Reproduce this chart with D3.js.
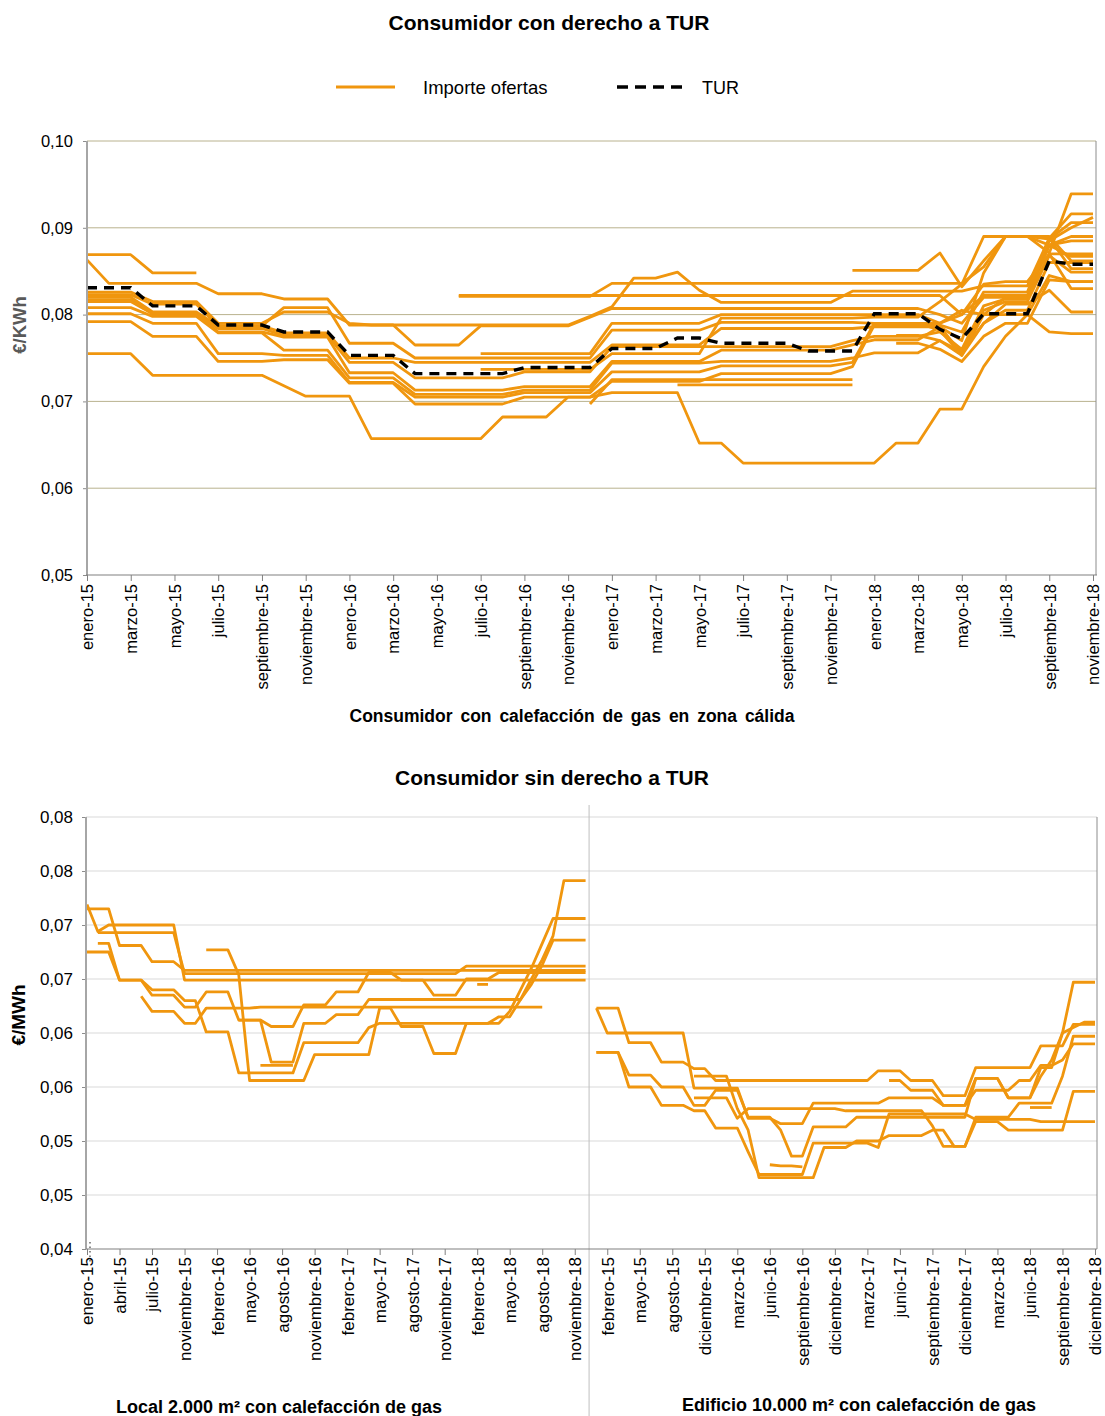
<!DOCTYPE html>
<html><head><meta charset="utf-8">
<script src="https://cdn.jsdelivr.net/npm/d3@7/dist/d3.min.js"></script>
<style>
body{margin:0;background:#fff;}
svg{display:block;font-family:"Liberation Sans",Arial,Helvetica,sans-serif;}
</style></head><body>
<svg id="chart" width="1105" height="1416"></svg>
<script>
const _ = null;

// ================= TOP CHART DATA =================
const topMonths = ["enero-15","febrero-15","marzo-15","abril-15","mayo-15","junio-15","julio-15","agosto-15","septiembre-15","octubre-15","noviembre-15","diciembre-15",
"enero-16","febrero-16","marzo-16","abril-16","mayo-16","junio-16","julio-16","agosto-16","septiembre-16","octubre-16","noviembre-16","diciembre-16",
"enero-17","febrero-17","marzo-17","abril-17","mayo-17","junio-17","julio-17","agosto-17","septiembre-17","octubre-17","noviembre-17","diciembre-17",
"enero-18","febrero-18","marzo-18","abril-18","mayo-18","junio-18","julio-18","agosto-18","septiembre-18","octubre-18","noviembre-18"];
const topTickMonths = ["enero-15","marzo-15","mayo-15","julio-15","septiembre-15","noviembre-15","enero-16","marzo-16","mayo-16","julio-16","septiembre-16","noviembre-16",
"enero-17","marzo-17","mayo-17","julio-17","septiembre-17","noviembre-17","enero-18","marzo-18","mayo-18","julio-18","septiembre-18","noviembre-18"];
const topYTicks = [0.05,0.06,0.07,0.08,0.09,0.10];
const topYLabels = ["0,05","0,06","0,07","0,08","0,09","0,10"];

const turValues = [.0831,.0831,.0831,.0810,.0810,.0810,.0788,.0788,.0788,.0780,.0780,.0780,.0753,.0753,.0753,.0732,.0732,.0732,.0732,.0732,.0739,.0739,.0739,.0739,.0761,.0761,.0761,.0773,.0773,.0767,.0767,.0767,.0767,.0758,.0758,.0758,.0801,.0801,.0801,.0783,.0772,.0801,.0801,.0801,.0862,.0858,.0858];

const offerT01 = [.0869,.0869,.0869,.0848,.0848,.0848];
const offerT02 = [.0863,.0836,.0836,.0836,.0836,.0836,.0824,.0824,.0824,.0818,.0818,.0818,.0788,.0788,.0788,.0788,.0788,.0788,.0788,.0788,.0788,.0788,.0788,.0798,.0809,.0842,.0842,.0849,.0828,.0814,.0814,.0814,.0814,.0814,.0814,.0827,.0827,.0827,.0827,.0827,.0827,.0833,.0833,.0833,.0888,.0916,.0916];
const offerT03 = [_,_,_,_,_,_,_,_,_,_,_,_,_,_,_,_,_,.0822,.0822,.0822,.0822,.0822,.0822,.0822,.0822,.0822,.0822,.0822,.0822,.0822,.0822,.0822,.0822,.0822,.0822,.0822,.0822,.0822,.0822,.0822,.0800,.0822,.0822,.0822,.0880,.0867,.0867];
const offerT04 = [_,_,_,_,_,_,_,_,_,_,_,_,_,_,_,_,_,.0821,.0821,.0821,.0821,.0821,.0821,.0821,.0836,.0836,.0836,.0836,.0836,.0836,.0836,.0836,.0836,.0836,.0836,.0836,.0836,.0836,.0836,.0836,.0836,.0855,.0890,.0890,.0887,.0906,.0906];
const offerT05 = [_,_,_,_,_,_,_,_,_,_,_,_,_,_,_,_,_,_,_,_,_,_,_,_,_,_,_,_,_,_,_,_,_,_,_,.0851,.0851,.0851,.0851,.0871,.0832,.0862,.0890,.0890,.0871,.0939,.0939];
const offerT06 = [.0826,.0826,.0826,.0815,.0815,.0815,.0790,.0790,.0790,.0803,.0803,.0803,.0790,.0788,.0788,.0765,.0765,.0765,.0787,.0787,.0787,.0787,.0787,.0797,.0807,.0807,.0807,.0807,.0807,.0807,.0807,.0807,.0807,.0807,.0807,.0807,.0807,.0807,.0807,.0800,.0790,.0820,.0820,.0820,.0880,.0885,.0885];
const offerT07 = [_,_,_,_,_,_,_,_,_,_,_,_,_,_,_,_,_,_,.0755,.0755,.0755,.0755,.0755,.0755,.0790,.0790,.0790,.0790,.0790,.0800,.0800,.0800,.0800,.0800,.0800,.0800,.0800,.0800,.0800,.0790,.0805,.0800,.0800,.0800,.0780,.0778,.0778];
const offerT08 = [.0823,.0823,.0823,.0812,.0812,.0812,.0787,.0787,.0787,.0808,.0808,.0808,.0767,.0767,.0767,.0750,.0750,.0750,.0750,.0750,.0750,.0750,.0750,.0750,.0782,.0782,.0782,.0782,.0782,.0791,.0791,.0791,.0791,.0791,.0791,.0791,.0790,.0790,.0790,.0782,.0753,.0800,.0820,.0820,.0885,.0900,.0912];
const offerT09 = [.0820,.0820,.0820,.0803,.0803,.0803,.0787,.0787,.0787,.0779,.0779,.0779,.0750,.0750,.0750,.0745,.0745,.0745,.0745,.0745,.0745,.0745,.0745,.0745,.0765,.0765,.0765,.0765,.0765,.0784,.0784,.0784,.0784,.0784,.0784,.0784,.0786,.0786,.0786,.0786,.0770,.0848,.0890,.0890,.0890,.0862,.0862];
const offerT10 = [.0817,.0817,.0817,.0801,.0801,.0801,.0784,.0784,.0784,.0776,.0776,.0776,.0745,.0745,.0745,.0727,.0727,.0727,.0727,.0727,.0734,.0734,.0734,.0734,.0763,.0763,.0763,.0763,.0763,.0763,.0763,.0763,.0763,.0763,.0763,.0770,.0775,.0775,.0775,.0780,.0760,.0810,.0818,.0818,.0870,.0830,.0830];
const offerT11 = [.0815,.0815,.0815,.0801,.0801,.0801,.0780,.0780,.0780,.0774,.0774,.0774,.0733,.0733,.0733,.0713,.0713,.0713,.0713,.0713,.0717,.0717,.0717,.0717,.0746,.0746,.0746,.0746,.0746,.0759,.0759,.0759,.0759,.0759,.0759,.0765,.0771,.0771,.0771,.0786,.0755,.0805,.0815,.0815,.0868,.0849,.0849];
const offerT12 = [.0808,.0808,.0808,.0798,.0798,.0798,.0779,.0779,.0779,.0759,.0759,.0759,.0727,.0727,.0727,.0708,.0708,.0708,.0708,.0708,.0713,.0713,.0713,.0713,.0744,.0744,.0744,.0744,.0744,.0746,.0746,.0746,.0746,.0746,.0746,.0750,.0756,.0756,.0756,.0770,.0753,.0790,.0812,.0812,.0828,.0803,.0803];
const offerT13 = [.0801,.0801,.0801,.0790,.0790,.0790,.0755,.0755,.0755,.0753,.0753,.0753,.0722,.0722,.0722,.0705,.0705,.0705,.0705,.0705,.0710,.0710,.0710,.0710,.0734,.0734,.0734,.0734,.0734,.0741,.0741,.0741,.0741,.0741,.0741,.0745,.0790,.0790,.0790,.0790,.0800,.0835,.0838,.0838,.0870,.0870,.0870];
const offerT14 = [.0792,.0792,.0792,.0775,.0775,.0775,.0746,.0746,.0746,.0748,.0748,.0748,.0721,.0721,.0721,.0697,.0697,.0697,.0697,.0697,.0705,.0705,.0705,.0705,.0723,.0723,.0723,.0723,.0723,.0732,.0732,.0732,.0732,.0732,.0732,.0740,.0788,.0788,.0788,.0788,.0780,.0826,.0826,.0826,.0888,.0853,.0853];
const offerT15 = [_,_,_,_,_,_,_,_,_,_,_,_,_,_,_,_,_,_,.0737,.0737,.0737,.0737,.0737,.0737,.0755,.0755,.0755,.0755,.0755,.0796,.0796,.0796,.0796,.0796,.0796,.0796,.0797,.0797,.0797,.0815,.0835,.0890,.0890,.0890,.0880,.0890,.0890];
const offerT16 = [_,_,_,_,_,_,_,_,_,_,_,_,_,_,_,_,_,_,_,_,_,_,_,.0697,.0725,.0725,.0725,.0725,.0725,.0725,.0725,.0725,.0725,.0725,.0725,.0725];
const offerT17 = [_,_,_,_,_,_,_,_,_,_,_,_,_,_,_,_,_,_,_,_,_,_,_,_,_,_,_,.0719,.0719,.0719,.0719,.0719,.0719,.0719,.0719,.0719];
const offerT18 = [_,_,_,_,_,_,_,_,_,_,_,_,_,_,_,_,_,_,_,_,_,_,_,_,_,_,_,_,_,_,_,_,_,_,_,_,_,.0776,.0776,.0770,.0757,.0790,.0805,.0805,.0860,.0860,.0860];
const offerT19 = [_,_,_,_,_,_,_,_,_,_,_,_,_,_,_,_,_,_,_,_,_,_,_,_,_,_,_,_,_,_,_,_,_,_,_,_,_,.0767,.0767,.0760,.0746,.0775,.0790,.0790,.0840,.0838,.0838];
const offerT20 = [.0755,.0755,.0755,.0730,.0730,.0730,.0730,.0730,.0730,.0718,.0706,.0706,.0706,.0657,.0657,.0657,.0657,.0657,.0657,.0682,.0682,.0682,.0705,.0705,.0710,.0710,.0710,.0710,.0652,.0652,.0629,.0629,.0629,.0629,.0629,.0629,.0629,.0652,.0652,.0691,.0691,.0740,.0775,.0800,.0845,.0838,.0838];

const topOffers = [offerT01,offerT02,offerT03,offerT04,offerT05,offerT06,offerT07,offerT08,offerT09,offerT10,offerT11,offerT12,offerT13,offerT14,offerT15,offerT16,offerT17,offerT18,offerT19,offerT20];

// ================= BOTTOM CHART DATA =================
const bottomMonths = ["enero-15","febrero-15","marzo-15","abril-15","mayo-15","junio-15","julio-15","agosto-15","septiembre-15","noviembre-15","diciembre-15",
"enero-16","febrero-16","marzo-16","abril-16","mayo-16","junio-16","julio-16","agosto-16","septiembre-16","octubre-16","noviembre-16","diciembre-16",
"enero-17","febrero-17","marzo-17","abril-17","mayo-17","junio-17","julio-17","agosto-17","septiembre-17","octubre-17","noviembre-17","diciembre-17",
"enero-18","febrero-18","marzo-18","abril-18","mayo-18","junio-18","julio-18","agosto-18","septiembre-18","octubre-18","noviembre-18","diciembre-18"];
const leftTickMonths = ["enero-15","abril-15","julio-15","noviembre-15","febrero-16","mayo-16","agosto-16","noviembre-16","febrero-17","mayo-17","agosto-17","noviembre-17","febrero-18","mayo-18","agosto-18","noviembre-18"];
const rightTickMonths = ["febrero-15","mayo-15","agosto-15","diciembre-15","marzo-16","junio-16","septiembre-16","diciembre-16","marzo-17","junio-17","septiembre-17","diciembre-17","marzo-18","junio-18","septiembre-18","diciembre-18"];
const bottomYTicks = [0.04,0.045,0.05,0.055,0.06,0.065,0.07,0.075,0.08];
const bottomYLabels = ["0,04","0,05","0,05","0,06","0,06","0,07","0,07","0,08","0,08"];

// Local 2.000 m2
const localL01 = [.0719,.0694,.0700,.0700,.0700,.0700,.0700,.0700,.0700,.0649,.0649,.0649,.0649,.0649,.0649,.0649,.0649,.0649,.0649,.0649,.0649,.0649,.0649,.0649,.0649,.0649,.0649,.0649,.0649,.0649,.0649,.0649,.0649,.0649,.0649,.0649,.0649,.0649,.0649,.0649,.0649,.0649,.0649,.0649,.0649,.0649,.0649];
const localL02 = [_,.0693,.0693,.0693,.0693,.0693,.0693,.0693,.0693,.0655,.0655,.0655,.0655,.0655,.0655,.0655,.0655,.0655,.0655,.0655,.0655,.0655,.0655,.0655,.0655,.0655,.0655,.0655,.0655,.0655,.0655,.0655,.0655,.0655,.0655,.0662,.0662,.0662,.0662,.0662,.0662,.0662,.0662,.0662,.0662,.0662,.0662];
const localL03 = [.0715,.0715,.0715,.0681,.0681,.0681,.0666,.0666,.0666,.0658,.0658,.0658,.0658,.0658,.0658,.0658,.0658,.0658,.0658,.0658,.0658,.0658,.0658,.0658,.0658,.0658,.0658,.0658,.0658,.0658,.0658,.0658,.0658,.0658,.0658,.0658,.0658,.0658,.0658,.0658,.0658,.0658,.0658,.0658,.0658,.0658,.0658];
const localL04 = [.0675,.0675,.0675,.0649,.0649,.0649,.0635,.0635,.0635,.0624,.0624,.0638,.0638,.0638,.0612,.0612,.0612,.0606,.0606,.0606,.0626,.0626,.0626,.0638,.0638,.0638,.0656,.0656,.0656,.0649,.0649,.0649,.0635,.0635,.0635,.0650,.0650,.0650,.0656,.0656,.0656,.0656,.0656,.0656,.0656,.0656,.0656];
const localL05 = [_,.0683,.0683,.0649,.0649,.0649,.0640,.0640,.0640,.0630,.0630,.0601,.0601,.0601,.0563,.0563,.0563,.0563,.0563,.0563,.0591,.0591,.0591,.0591,.0591,.0591,.0605,.0609,.0609,.0609,.0609,.0609,.0609,.0609,.0609,.0609,.0609,.0609,.0609,.0620,.0640,.0660,.0683,.0706,.0706,.0706,.0706];
const localL06 = [_,_,_,_,_,.0634,.0620,.0620,.0620,.0609,.0609,.0623,.0623,.0623,.0623,.0623,.0624,.0624,.0624,.0624,.0624,.0624,.0624,.0624,.0624,.0624,.0624,.0624,.0624,.0624,.0624,.0624,.0624,.0624,.0624,.0624,.0624,.0624,.0624,.0624,.0624,.0624,.0624];
const localL07 = [_,_,_,_,_,_,_,_,_,_,_,.0677,.0677,.0677,.0654,.0556,.0556,.0556,.0556,.0556,.0556,.0580,.0580,.0580,.0580,.0580,.0580,.0623,.0623,.0606,.0606,.0606,.0581,.0581,.0581,.0609,.0609,.0609,.0615,.0615,.0631,.0645,.0663,.0686,.0686,.0686,.0686];
const localL08 = [_,_,_,_,_,_,_,_,_,_,_,_,_,_,.0612,.0612,.0612,.0573,.0573,.0573,.0609,.0609,.0609,.0617,.0617,.0617,.0631,.0631,.0631,.0631,.0631,.0631,.0631,.0631,.0631,.0631,.0631,.0631,.0631,.0631,.0631,.0650,.0668,.0690,.0741,.0741,.0741];
const localL09 = [_,_,_,_,_,_,_,_,_,_,_,_,_,_,_,_,.0570,.0570,.0570,.0570];
const localL10 = [_,_,_,_,_,_,_,_,_,_,_,_,_,_,_,_,_,_,_,_,_,_,_,_,_,_,_,_,_,_,_,_,_,_,_,_,.0645,.0645];
const localSeries = [localL01,localL02,localL03,localL04,localL05,localL06,localL07,localL08,localL09,localL10];

// Edificio 10.000 m2
const edifR01 = [.0623,.0623,.0623,.0591,.0591,.0591,.0573,.0573,.0573,.0567,.0567,.0556,.0556,.0556,.0556,.0556,.0556,.0556,.0556,.0556,.0556,.0556,.0556,.0556,.0556,.0556,.0565,.0565,.0565,.0556,.0556,.0556,.0542,.0542,.0542,.0568,.0568,.0568,.0568,.0568,.0568,.0588,.0588,.0588,.0608,.0608,.0608];
const edifR02 = [.0623,.0600,.0600,.0600,.0600,.0600,.0600,.0600,.0600,.0549,.0549,.0549,.0549,.0549,.0521,.0521,.0521,.0516,.0516,.0516,.0535,.0535,.0535,.0535,.0535,.0535,.0535,.0540,.0540,.0540,.0540,.0540,.0533,.0533,.0533,.0547,.0547,.0547,.0547,.0556,.0556,.0570,.0570,.0575,.0590,.0590,.0590];
const edifR03 = [.0582,.0582,.0582,.0561,.0561,.0561,.0550,.0550,.0550,.0533,.0533,.0547,.0547,.0547,.0522,.0522,.0522,.0510,.0486,.0486,.0513,.0513,.0513,.0513,.0522,.0522,.0522,.0522,.0522,.0522,.0522,.0522,.0522,.0522,.0522,.0558,.0558,.0558,.0540,.0540,.0540,.0560,.0575,.0600,.0647,.0647,.0647];
const edifR04 = [.0582,.0582,.0582,.0550,.0550,.0550,.0533,.0533,.0533,.0528,.0528,.0512,.0512,.0512,.0490,.0469,.0469,.0469,.0469,.0469,.0498,.0498,.0498,.0498,.0498,.0498,.0494,.0525,.0525,.0525,.0525,.0525,.0525,.0525,.0525,.0520,.0520,.0520,.0520,.0520,.0520,.0518,.0518,.0518,.0518,.0518,.0518];
const edifR05 = [_,_,_,_,_,_,_,_,_,.0560,.0560,.0560,.0560,.0530,.0510,.0466,.0466,.0466,.0466,.0466,.0466,.0494,.0494,.0494,.0500,.0500,.0500,.0505,.0505,.0505,.0505,.0510,.0510,.0495,.0495,.0518,.0518,.0518,.0510,.0510,.0510,.0510,.0510,.0510,.0546,.0546,.0546];
const edifR06 = [_,_,_,_,_,_,_,_,_,_,_,_,_,_,_,_,.0478,.0477,.0477,.0476];
const edifR07 = [_,_,_,_,_,_,_,_,_,.0540,.0540,.0540,.0540,.0521,.0530,.0530,.0530,.0530,.0530,.0530,.0530,.0530,.0530,.0528,.0528,.0528,.0528,.0528,.0528,.0528,.0528,.0514,.0495,.0495,.0495,.0522,.0522,.0522,.0522,.0535,.0535,.0535,.0535,.0560,.0597,.0597,.0597];
const edifR08 = [_,_,_,_,_,_,_,_,_,_,_,_,_,_,_,_,_,_,_,_,_,_,_,_,_,_,_,.0556,.0556,.0547,.0547,.0547,.0533,.0533,.0533,.0558,.0558,.0558,.0540,.0540,.0540,.0568,.0568,.0600,.0605,.0610,.0610];
const edifR09 = [_,_,_,_,_,_,_,_,_,_,_,_,_,_,_,_,_,_,_,_,_,_,_,_,_,_,_,_,_,_,_,_,_,_,_,_,_,_,_,_,.0531,.0531,.0531];
const edifSeries = [edifR01,edifR02,edifR03,edifR04,edifR05,edifR06,edifR07,edifR08,edifR09];

// ================= DRAWING =================
const ORANGE = "#F0960E";
const FONT = '"Liberation Sans", Arial, Helvetica, sans-serif';
const svg = d3.select("#chart");
svg.append("rect").attr("width",1105).attr("height",1416).attr("fill","#fff");

const pts = (arr, keys) => keys.map((k,i) => ({k: k, v: (arr[i] === undefined ? null : arr[i])}));

// ---------- TOP ----------
const xT = d3.scalePoint().domain(topMonths).range([87, 1093]);
const yT = d3.scaleLinear().domain([0.05, 0.10]).range([575, 141]);
const gT = svg.append("g");

gT.append("text").attr("x",549).attr("y",30).attr("text-anchor","middle")
  .attr("font-size",21).attr("font-weight","bold").attr("font-family",FONT).text("Consumidor con derecho a TUR");

// legend
gT.append("line").attr("x1",336).attr("x2",395).attr("y1",87).attr("y2",87).attr("stroke",ORANGE).attr("stroke-width",3);
gT.append("text").attr("x",423).attr("y",94).attr("font-size",18.5).attr("font-family",FONT).text("Importe ofertas");
gT.append("line").attr("x1",617).attr("x2",683).attr("y1",87).attr("y2",87).attr("stroke","#000").attr("stroke-width",3.5).attr("stroke-dasharray","11,7");
gT.append("text").attr("x",702).attr("y",94).attr("font-size",18).attr("font-family",FONT).text("TUR");

// grid
gT.append("g").selectAll("line").data(topYTicks.slice(1)).join("line")
  .attr("x1",87).attr("x2",1096).attr("y1",d=>yT(d)).attr("y2",d=>yT(d))
  .attr("stroke","#B9B28E").attr("stroke-width",1);
gT.append("line").attr("x1",1096).attr("x2",1096).attr("y1",yT(0.10)).attr("y2",yT(0.05)).attr("stroke","#8C8C8C").attr("stroke-width",1);

const lineT = d3.line().defined(d => d.v != null).x(d => xT(d.k)).y(d => yT(d.v));
gT.append("g").selectAll("path").data(topOffers).join("path")
  .attr("d", s => lineT(pts(s, topMonths)))
  .attr("fill","none").attr("stroke",ORANGE).attr("stroke-width",2.8).attr("stroke-linejoin","round");
gT.append("path").attr("d", lineT(pts(turValues, topMonths)))
  .attr("fill","none").attr("stroke","#000").attr("stroke-width",3.4).attr("stroke-dasharray","10,7");

// axes
const axTL = gT.append("g").attr("transform","translate(87,0)")
  .call(d3.axisLeft(yT).tickValues(topYTicks).tickFormat((d,i)=>topYLabels[i]).tickSize(4).tickPadding(10));
axTL.attr("font-family",FONT).attr("font-size",16.5);
axTL.select(".domain").remove();
axTL.selectAll(".tick line").attr("stroke","#8C8C8C");
axTL.selectAll("text").attr("fill","#000");
gT.append("line").attr("x1",87).attr("x2",87).attr("y1",yT(0.10)).attr("y2",yT(0.05)).attr("stroke","#A6A6A6").attr("stroke-width",2);

const axTB = gT.append("g").attr("transform","translate(0,575)")
  .call(d3.axisBottom(xT).tickValues(topTickMonths).tickSize(6));
axTB.attr("font-family",FONT).attr("font-size",16.5);
axTB.select(".domain").remove();
axTB.selectAll(".tick line").attr("stroke","#808080");
axTB.selectAll("text").attr("fill","#000").attr("transform","rotate(-90)")
  .attr("x",-9).attr("y",0).attr("dy","0.35em").attr("text-anchor","end");
gT.append("line").attr("x1",86).attr("x2",1097).attr("y1",575).attr("y2",575).attr("stroke","#808080").attr("stroke-width",1.2);

gT.append("text").attr("transform","translate(20,325) rotate(-90)").attr("text-anchor","middle").attr("dy","0.35em")
  .attr("font-size",18.5).attr("font-weight","bold").attr("fill","#595959").attr("font-family",FONT).text("€/KWh");
gT.append("text").attr("x",572).attr("y",722).attr("text-anchor","middle").attr("word-spacing",3)
  .attr("font-size",17.5).attr("font-weight","bold").attr("font-family",FONT).text("Consumidor con calefacción de gas en zona cálida");

// ---------- BOTTOM ----------
const leftKeys = bottomMonths.map(m => "L|" + m);
const rightKeys = bottomMonths.map(m => "R|" + m);
const xB = d3.scalePoint().domain(leftKeys.concat(rightKeys)).range([87, 1095]);
const yB = d3.scaleLinear().domain([0.04, 0.08]).range([1249, 817]);
const gB = svg.append("g");

gB.append("text").attr("x",552).attr("y",785).attr("text-anchor","middle")
  .attr("font-size",21).attr("font-weight","bold").attr("font-family",FONT).text("Consumidor sin derecho a TUR");

gB.append("g").selectAll("line").data(bottomYTicks.slice(1)).join("line")
  .attr("x1",86).attr("x2",1097).attr("y1",d=>yB(d)).attr("y2",d=>yB(d))
  .attr("stroke","#D9D9D9").attr("stroke-width",1.2);
gB.append("line").attr("x1",1097).attr("x2",1097).attr("y1",yB(0.08)).attr("y2",yB(0.04)).attr("stroke","#8C8C8C");

const divX = xB("L|diciembre-18") + 3.5;
gB.append("line").attr("x1",divX).attr("x2",divX).attr("y1",805).attr("y2",1416).attr("stroke","#BFBFBF").attr("stroke-width",1);

const lineB = d3.line().defined(d => d.v != null).x(d => xB(d.k)).y(d => yB(d.v));
gB.append("g").selectAll("path").data(localSeries).join("path")
  .attr("d", s => lineB(pts(s, leftKeys)))
  .attr("fill","none").attr("stroke",ORANGE).attr("stroke-width",2.8).attr("stroke-linejoin","round");
gB.append("g").selectAll("path").data(edifSeries).join("path")
  .attr("d", s => lineB(pts(s, rightKeys)))
  .attr("fill","none").attr("stroke",ORANGE).attr("stroke-width",2.8).attr("stroke-linejoin","round");

const axBL = gB.append("g").attr("transform","translate(86,0)")
  .call(d3.axisLeft(yB).tickValues(bottomYTicks).tickFormat((d,i)=>bottomYLabels[i]).tickSize(4).tickPadding(9));
axBL.attr("font-family",FONT).attr("font-size",17);
axBL.select(".domain").remove();
axBL.selectAll(".tick line").attr("stroke","#8C8C8C");
axBL.selectAll("text").attr("fill","#000");
gB.append("line").attr("x1",86).attr("x2",86).attr("y1",yB(0.08)).attr("y2",yB(0.04)).attr("stroke","#A6A6A6").attr("stroke-width",2);

const bTicks = leftTickMonths.map(m => "L|" + m).concat(rightTickMonths.map(m => "R|" + m));
const axBB = gB.append("g").attr("transform","translate(0,1249)")
  .call(d3.axisBottom(xB).tickValues(bTicks).tickFormat(k => k.slice(2)).tickSize(6));
axBB.attr("font-family",FONT).attr("font-size",17);
axBB.select(".domain").remove();
axBB.selectAll(".tick line").attr("stroke","#808080");
axBB.selectAll("text").attr("fill","#000").attr("transform","rotate(-90)")
  .attr("x",-8).attr("y",0).attr("dy","0.35em").attr("text-anchor","end");
gB.append("line").attr("x1",86).attr("x2",1097).attr("y1",1249).attr("y2",1249).attr("stroke","#808080").attr("stroke-width",1.2);
// small dotted marker at the first category (as in the original)
gB.append("line").attr("x1",90).attr("x2",90).attr("y1",1242).attr("y2",1262)
  .attr("stroke","#666").attr("stroke-width",1.5).attr("stroke-dasharray","1.5,3");

gB.append("text").attr("transform","translate(18,1015) rotate(-90)").attr("text-anchor","middle").attr("dy","0.35em")
  .attr("font-size",19).attr("font-weight","bold").attr("fill","#000").attr("font-family",FONT).text("€/MWh");
gB.append("text").attr("x",279).attr("y",1413).attr("text-anchor","middle")
  .attr("font-size",18).attr("font-weight","bold").attr("font-family",FONT).text("Local 2.000 m² con calefacción de gas");
gB.append("text").attr("x",859).attr("y",1411).attr("text-anchor","middle")
  .attr("font-size",18).attr("font-weight","bold").attr("font-family",FONT).text("Edificio 10.000 m² con calefacción de gas");
</script></body></html>
